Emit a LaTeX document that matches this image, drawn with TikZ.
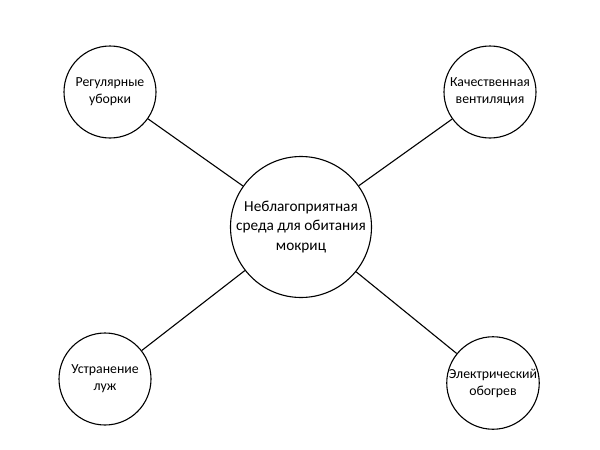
\documentclass[tikz,border=0pt]{standalone}
\usepackage{fontspec}
\setmainfont{Carlito}
\usepackage{tikz}

\begin{document}
\begin{tikzpicture}[x=1pt, y=-1pt, line width=1.1pt,
    every node/.style={align=center, draw, circle, inner sep=0pt},
    hub/.style={minimum size=141pt, font=\fontsize{15.3}{19.5}\selectfont},
    leaf/.style={minimum size=92pt, font=\fontsize{13.8}{17}\selectfont}]
    \useasboundingbox (0,0) rectangle (600,450);
    \node[hub] (env) at (301,227) {Неблагоприятная \\ среда для обитания \\ мокриц};
    \node[leaf] (clean) at (110,92) {Регулярные \\ уборки};
    \node[leaf] (vent) at (490,92) {Качественная \\ вентиляция};
    \node[leaf] (puddle) at (105,379) {Устранение \\ луж};
    \node[leaf] (heat) at (493,383) {Электрический \\ обогрев};

    \draw (clean) -- (env);
    \draw (vent) -- (env);
    \draw (puddle) -- (env);
    \draw (heat) -- (env);
\end{tikzpicture}
\end{document}
